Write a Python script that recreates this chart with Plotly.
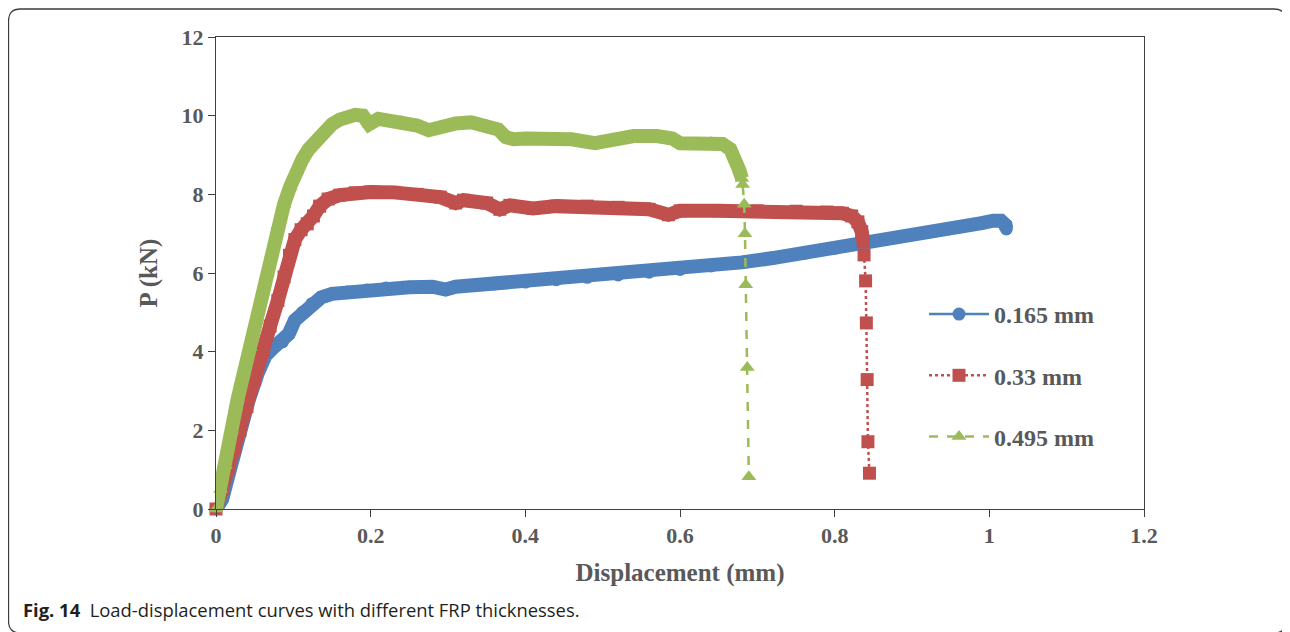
import plotly.graph_objects as go

# ---------------- data ----------------
blue_x = [0.000, 0.008, 0.018, 0.030, 0.042, 0.054, 0.064, 0.074, 0.086, 0.094, 0.102, 0.112,
          0.124, 0.136, 0.150, 0.170, 0.195, 0.220, 0.250, 0.280, 0.297, 0.310, 0.330, 0.360,
          0.400, 0.440, 0.480, 0.520, 0.560, 0.600, 0.640, 0.680, 0.720, 0.760, 0.800, 0.840,
          0.880, 0.920, 0.960, 0.990, 1.005, 1.015, 1.021, 1.022]
blue_y = [0.00, 0.25, 1.00, 1.95, 2.75, 3.45, 3.90, 4.10, 4.25, 4.45, 4.80, 5.00,
          5.22, 5.38, 5.47, 5.52, 5.57, 5.62, 5.64, 5.65, 5.58, 5.65, 5.68, 5.72,
          5.77, 5.83, 5.89, 5.95, 6.02, 6.09, 6.18, 6.27, 6.38, 6.50, 6.63, 6.78,
          6.90, 7.03, 7.16, 7.27, 7.33, 7.33, 7.22, 7.12]

red_x = [0.000, 0.008, 0.016, 0.024, 0.031, 0.040, 0.050, 0.061, 0.070, 0.080, 0.088, 0.095,
         0.102, 0.110, 0.118, 0.126, 0.134, 0.145, 0.160, 0.180, 0.200, 0.230, 0.260, 0.290,
         0.310, 0.320, 0.350, 0.367, 0.380, 0.410, 0.440, 0.480, 0.520, 0.560, 0.585, 0.600,
         0.650, 0.700, 0.750, 0.790, 0.810, 0.822, 0.830, 0.835, 0.837]
red_y = [0.00, 0.50, 1.05, 1.55, 2.00, 2.60, 3.30, 4.00, 4.65, 5.30, 5.90, 6.45,
         6.85, 7.10, 7.25, 7.45, 7.70, 7.88, 7.98, 8.04, 8.06, 8.05, 8.00, 7.93,
         7.78, 7.85, 7.78, 7.62, 7.72, 7.64, 7.70, 7.70, 7.67, 7.62, 7.48, 7.58,
         7.58, 7.58, 7.57, 7.55, 7.52, 7.45, 7.30, 7.05, 6.80]
red_tail_x = [0.838, 0.840, 0.841, 0.842, 0.843, 0.845]
red_tail_y = [6.46, 5.80, 4.73, 3.29, 1.71, 0.91]

green_x = [0.000, 0.006, 0.012, 0.020, 0.028, 0.036, 0.044, 0.052, 0.060, 0.066, 0.072, 0.080,
           0.088, 0.096, 0.104, 0.112, 0.120, 0.130, 0.140, 0.150, 0.160, 0.170, 0.180, 0.190,
           0.198, 0.210, 0.240, 0.260, 0.275, 0.290, 0.310, 0.330, 0.350, 0.365, 0.375, 0.385,
           0.400, 0.420, 0.440, 0.460, 0.490, 0.510, 0.540, 0.570, 0.590, 0.600, 0.620, 0.640,
           0.655, 0.665, 0.672, 0.677, 0.680]
green_y = [0.00, 0.50, 1.10, 2.00, 2.80, 3.50, 4.10, 4.80, 5.50, 6.00, 6.50, 7.20,
           7.75, 8.20, 8.60, 8.90, 9.15, 9.40, 9.60, 9.78, 9.90, 9.98, 10.02, 10.00,
           9.78, 9.92, 9.85, 9.75, 9.63, 9.72, 9.80, 9.83, 9.75, 9.65, 9.45, 9.40,
           9.42, 9.42, 9.40, 9.40, 9.30, 9.38, 9.48, 9.48, 9.42, 9.30, 9.30, 9.32,
           9.28, 9.15, 8.90, 8.60, 8.40]
green_tail_x = [0.681, 0.683, 0.684, 0.685, 0.687, 0.689]
green_tail_y = [8.25, 7.75, 7.00, 5.70, 3.60, 0.82]

series_names = ["0.165 mm", "0.33 mm", "0.495 mm"]
x_ticks = [0, 0.2, 0.4, 0.6, 0.8, 1, 1.2]
y_ticks = [0, 2, 4, 6, 8, 10, 12]

# ---------------- styling ----------------
BLUE, RED, GREEN = "#4F81BD", "#C0504D", "#9BBB59"
TXT = "#595959"
AX = "#404040"
SERIF = "Liberation Serif"
OFF = 8                      # page body margin
W, H = 1282, 624
L, R, T, B = 208, 146, 29, 123
PW, PH = W - L - R, H - T - B

def px(xp):                  # page pixel -> paper x
    return (xp - OFF - L) / PW

def py(yp):                  # page pixel -> paper y
    return (H - B - (yp - OFF)) / PH

fig = go.Figure()

specs = [
    (blue_x, blue_y, [], [], BLUE, "circle", "solid", series_names[0]),
    (red_x, red_y, red_tail_x, red_tail_y, RED, "square", "dot", series_names[1]),
    (green_x, green_y, green_tail_x, green_tail_y, GREEN, "triangle-up", "dash", series_names[2]),
]

for i, (dx, dy, tx, ty, col, sym, dash, name) in enumerate(specs):
    fig.add_trace(go.Scatter(x=dx, y=dy, mode="lines", line=dict(color=col, width=14),
                             showlegend=False, hoverinfo="skip", legendgroup=f"g{i}"))
    fig.add_trace(go.Scatter(x=dx + tx, y=dy + ty, mode="lines+markers", name=f"<b>{name}</b>",
                             line=dict(color=col, width=2.5, dash=dash),
                             marker=dict(symbol=sym, size=13, color=col, line=dict(width=0)),
                             cliponaxis=False, legendgroup=f"g{i}"))

axis_common = dict(showline=True, linecolor=AX, linewidth=1, mirror=True, ticks="outside",
                   ticklen=7, tickcolor=AX, tickwidth=1, showgrid=False, zeroline=False,
                   tickfont=dict(family=SERIF, size=22, color=TXT))

fig.update_layout(
    width=W, height=H,
    margin=dict(l=L, r=R, t=T, b=B),
    paper_bgcolor="white", plot_bgcolor="white",
    xaxis=dict(range=[0, 1.2], tickvals=x_ticks, ticktext=[f"<b>{v}</b>" for v in x_ticks],
               title=dict(text="<b>Displacement (mm)</b>", font=dict(family=SERIF, size=25, color=TXT),
                          standoff=16),
               **axis_common),
    yaxis=dict(range=[0, 12], tickvals=y_ticks, ticktext=[f"<b>{v}</b>" for v in y_ticks],
               title=dict(text="<b>P (kN)</b>", font=dict(family=SERIF, size=25, color=TXT),
                          standoff=16),
               **axis_common),
    font=dict(family=SERIF, color=TXT),
    legend=dict(x=px(924), y=py(292), xanchor="left", yanchor="top",
                font=dict(family=SERIF, size=24, color=TXT), tracegroupgap=27,
                itemwidth=60, bgcolor="rgba(0,0,0,0)"),
    showlegend=True,
)

# caption
fig.add_annotation(xref="paper", yref="paper", x=px(21), y=py(609), xanchor="left", yanchor="middle",
                   showarrow=False,
                   text="<b>Fig. 14</b>  Load-displacement curves with different FRP thicknesses.",
                   font=dict(family="Open Sans", size=18.4, color="#231f20"))

# outer rounded frame
x0, x1, y0, y1, r = 8.5, 1286, 9, 633, 12
def P(a, b):
    return f"{px(a):.5f},{py(b):.5f}"
path = (f"M{P(x0 + r, y0)} L{P(x1 - r, y0)} Q{P(x1, y0)} {P(x1, y0 + r)} "
        f"L{P(x1, y1 - r)} Q{P(x1, y1)} {P(x1 - r, y1)} L{P(x0 + r, y1)} "
        f"Q{P(x0, y1)} {P(x0, y1 - r)} L{P(x0, y0 + r)} Q{P(x0, y0)} {P(x0 + r, y0)} Z")
fig.add_shape(type="path", xref="paper", yref="paper", path=path,
              line=dict(color="#3c3c3c", width=1.3), layer="below")

fig.write_html("out.html")
